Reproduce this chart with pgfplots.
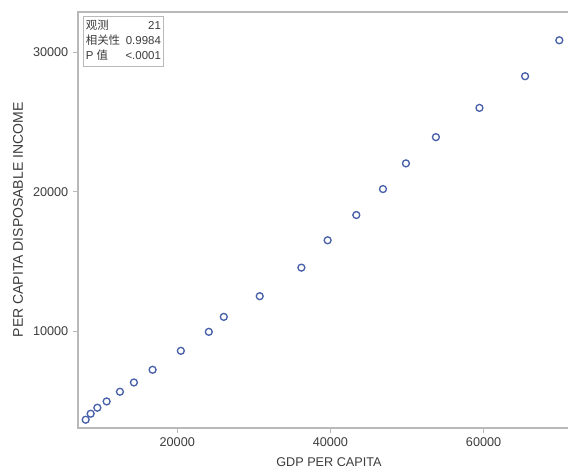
\documentclass[border=0pt]{standalone}
\usepackage{fontspec}
\setmainfont{Liberation Sans}
\newfontfamily\cjk{Noto Sans CJK SC}
\usepackage{pgfplots}
\pgfplotsset{compat=1.18}
\definecolor{markblue}{RGB}{72,96,170}
\definecolor{framegray}{RGB}{185,185,185}
\definecolor{txtgray}{RGB}{60,60,60}
\begin{document}
\begin{tikzpicture}[x=1pt,y=1pt]
\useasboundingbox (-58.5,-31.5) rectangle (367.5,321);
\clip (-58.5,-31.5) rectangle (367.5,321);
\begin{axis}[
  at={(0,0)}, anchor=south west,
  scale only axis,
  width=376.5pt, height=312pt,
  xmin=7040, xmax=72590,
  ymin=3100, ymax=32860,
  xtick={20000,40000,60000},
  ytick={10000,20000,30000},
  scaled ticks=false,
  /pgf/number format/assume math mode=true,
  xticklabel={\pgfmathprintnumber[fixed,precision=0,1000 sep={}]{\tick}},
  yticklabel={\pgfmathprintnumber[fixed,precision=0,1000 sep={}]{\tick}},
  tick align=outside,
  major tick length=3.75pt,
  tick style={framegray, line width=0.6pt},
  axis line style={framegray, line width=0.8pt},
  minor tick num=0,
  xtick pos=bottom, ytick pos=left,
  ticklabel style={font=\fontsize{9.5}{11}\selectfont, text=txtgray},
  xlabel={GDP PER CAPITA},
  ylabel={PER CAPITA DISPOSABLE INCOME},
  xlabel style={font=\fontsize{9.5}{11}\selectfont, text=txtgray, at={(axis description cs:0.5,-0.0817)}, anchor=center},
  ylabel style={font=\fontsize{10.5}{12}\selectfont, text=txtgray, at={(axis description cs:-0.1195,0.5)}, anchor=center},
  clip=false,
]
\addplot[only marks, mark=o, mark size=2.6pt, mark options={markblue, line width=1pt}] coordinates {
(8042,3693) (8694,4122) (9568,4550) (10781,5000) (12515,5693)
(14341,6357) (16779,7264) (20469,8621) (24121,9979) (26077,11050)
(30771,12529) (36209,14571) (39638,16529) (43381,18336) (46862,20193)
(49862,22029) (53774,23907) (59460,26000) (65420,28265) (69890,30836)
};
\node[draw=framegray, line width=0.6pt, fill=white, anchor=north west, inner sep=1.8pt,
  font=\fontsize{8.6}{11.4}\selectfont, text=txtgray]
  at ([xshift=3.75pt,yshift=-3pt]axis description cs:0,1)
  {\begin{tabular}{@{}l@{\hspace{4pt}}r@{}}
   {\cjk 观测} & 21\\
   {\cjk 相关性} & 0.9984\\
   P {\cjk 值} & <.0001
   \end{tabular}};
\end{axis}
\end{tikzpicture}
\end{document}
